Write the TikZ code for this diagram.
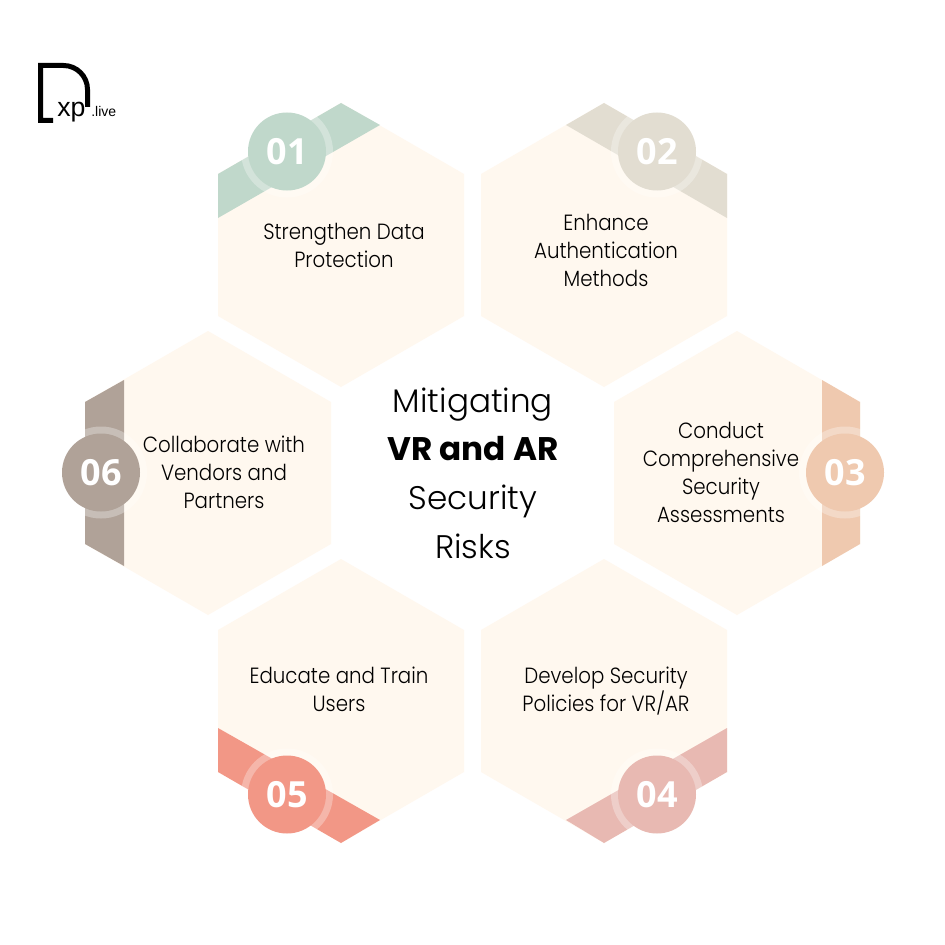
\documentclass[tikz,border=0pt]{standalone}
\usepackage{xcolor}
\usepackage{fontspec}
\setmainfont{Poppins Light}
\newfontfamily\hexfont[FakeStretch=0.9]{Poppins Light}
\newfontfamily\numfont{Open Sans}
\newfontfamily\logofont{Liberation Sans}
\usepackage{tikz}
\usetikzlibrary{positioning,calc}
\definecolor{cream}{HTML}{FFF8EF}
\definecolor{bandA}{HTML}{C0D8CB}
\definecolor{bandB}{HTML}{E2DDD1}
\definecolor{bandC}{HTML}{EFC9AF}
\definecolor{bandD}{HTML}{E8B9B2}
\definecolor{bandE}{HTML}{F29786}
\definecolor{bandF}{HTML}{B0A298}
\tikzset{
  hexlabel/.style={align=center,font=\fontsize{16.5}{21}\hexfont,text=black},
  numlabel/.style={font=\fontsize{27}{27}\numfont\bfseries,text=white},
  titlelabel/.style={align=center,font=\fontsize{24.5}{36.5}\selectfont,text=black},
}
\begin{document}
\begin{tikzpicture}[x=0.75pt,y=-0.75pt]
  \useasboundingbox (0,0) rectangle (945,945);
  \fill[white] (0,0) rectangle (945,945);
  % hexagons
  \foreach \cx/\cy in {341/245,604/245,737/473,208/473,341/701,604/701} {
    \fill[cream] (\cx,\cy-142) -- (\cx+123,\cy-71) -- (\cx+123,\cy+71)
      -- (\cx,\cy+142) -- (\cx-123,\cy+71) -- (\cx-123,\cy-71) -- cycle;
  }
  % colored bands
  \fill[bandA] (218,174) -- (341,103) -- (380,125) -- (218,218) -- cycle;
  \fill[bandB] (727,174) -- (604,103) -- (566,125) -- (727,218) -- cycle;
  \fill[bandC] (822,380) -- (860,402) -- (860,544) -- (822,566) -- cycle;
  \fill[bandD] (727,728) -- (566,820) -- (604,843) -- (727,772) -- cycle;
  \fill[bandE] (218,728) -- (380,820) -- (341,843) -- (218,772) -- cycle;
  \fill[bandF] (124,380) -- (85,402) -- (85,544) -- (124,566) -- cycle;
  % number circles
  \foreach \cx/\cy/\col/\num in {287/151.5/bandA/01,657/151.5/bandB/02,845/472.5/bandC/03,
      657/794.5/bandD/04,287/794.5/bandE/05,101/472.5/bandF/06} {
    \fill[white,opacity=0.3] (\cx,\cy) circle (46);
    \fill[\col] (\cx,\cy) circle (39);
    \node[numlabel] (num\num) at (\cx,\cy) {\num};
  }
  % texts
  \node[hexlabel] (txtA) at (344,245) {Strengthen Data\\Protection};
  \node[hexlabel] (txtB) at (606,250) {Enhance\\Authentication\\Methods};
  \node[hexlabel] (txtC) at (721,472) {Conduct\\Comprehensive\\Security\\Assessments};
  \node[hexlabel] (txtD) at (606,691) {Develop Security\\Policies for VR/AR};
  \node[hexlabel] (txtE) at (339,689) {Educate and Train\\Users};
  \node[hexlabel] (txtF) at (224,472) {Collaborate with\\Vendors and\\Partners};
  \node[titlelabel] (title) at (473,473) {Mitigating\\{\fontspec{Poppins}\bfseries VR and AR}\\Security\\Risks};
  % logo
  \draw[line width=3.75pt,black,line join=miter] (53,120.5) -- (40.5,120.5) -- (40.5,65.5) -- (63.5,65.5)
    arc[start angle=270,end angle=360,radius=24] -- (87.5,107);
  \node[font=\fontsize{20}{20}\logofont,inner sep=0pt,anchor=base west] (logoxp) at (57,117) {xp};
  \node[font=\fontsize{10.5}{10.5}\logofont,inner sep=0pt,anchor=base west] (logolive) at (91,117) {.live};
\end{tikzpicture}
\end{document}
